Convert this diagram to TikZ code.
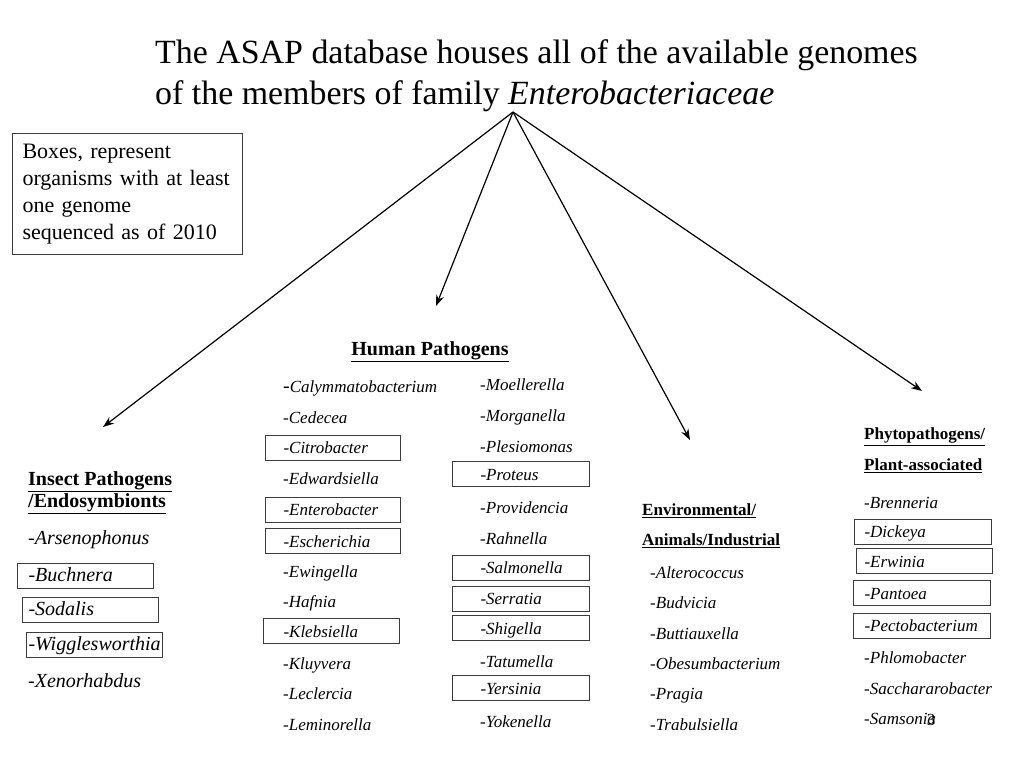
\documentclass[tikz,border=0pt]{standalone}
\usepackage{fontspec}
\setmainfont{Liberation Serif}
\usetikzlibrary{arrows.meta}
\definecolor{frameGray}{RGB}{60,60,60}
\newcommand{\gsize}{\fontsize{17}{20}\selectfont}
\newcommand{\isize}{\fontsize{20}{22}\selectfont}
\tikzset{
  genus/.style={font=\gsize\itshape,anchor=west,inner sep=0pt,
    text height=14pt,text depth=2pt},
  igenus/.style={font=\isize\itshape,anchor=west,inner sep=0pt,
    text height=15pt,text depth=4pt},
  boxed/.style 2 args={draw=frameGray,line width=1pt,inner xsep=#1,
    inner ysep=4.5pt,
    execute at begin node={\hbox to #2\bgroup},
    execute at end node={\hfil\egroup}},
  head/.style={font=\gsize\bfseries,anchor=west,inner sep=0pt,align=left},
  arrow/.style={-{Stealth[length=11pt,width=8pt]},line width=1.2pt}
}
\begin{document}
\begin{tikzpicture}[x=1pt,y=-1pt]
  \useasboundingbox (0,0) rectangle (1024,768);
  % title and legend
  \node[anchor=west,inner sep=0pt,align=left,
    font=\fontsize{33.9}{41}\selectfont] (title) at (155,76)
    {The ASAP database houses all of the available genomes\\
     of the members of family \textit{Enterobacteriaceae}};
  \node[draw=frameGray,line width=1pt,anchor=north west,inner xsep=10pt,
    text width=210pt,minimum height=121pt,align=left,
    font=\fontsize{22}{27}\selectfont] (legend) at (12,133)
    {Boxes, represent\\organisms with at least\\one genome\\sequenced as of 2010};
  % arrows
  \coordinate (apex) at (513,112);
  \coordinate (toInsect) at (103,427);
  \coordinate (toHuman) at (436,306);
  \coordinate (toEnv) at (690,440);
  \coordinate (toPlant) at (922,391);
  \draw[arrow] (apex) -- (toInsect);
  \draw[arrow] (apex) -- (toHuman);
  \draw[arrow] (apex) -- (toEnv);
  \draw[arrow] (apex) -- (toPlant);
  % insect pathogens
  \node[head,font=\isize\bfseries] (insect) at (28,493)
    {\underline{Insect Pathogens}\\\underline{/Endosymbionts}};
  \node[igenus] (arseno) at (28,539) {-Arsenophonus};
  \node[igenus,boxed={11pt}{114pt},inner ysep=3pt] (buchnera) at (17,575.5) {-Buchnera};
  \node[igenus,boxed={6pt}{124pt},inner ysep=3pt] (sodalis) at (22,609.5) {-Sodalis};
  \node[igenus,boxed={2pt}{132pt},inner ysep=3pt] (wiggles) at (26,644.5) {-Wigglesworthia};
  \node[igenus] (xeno) at (28,682) {-Xenorhabdus};
  % human pathogens
  \node[head,font=\isize\bfseries,anchor=center] (human) at (430,352)
    {\underline{Human Pathogens}};
  \node[genus] (calym) at (283,386)
    {{\normalfont\fontsize{20}{20}\selectfont -}Calymmatobacterium};
  \node[genus] (cedecea) at (283,417) {-Cedecea};
  \node[genus,boxed={18pt}{99pt}] (citro) at (265,447.5) {-Citrobacter};
  \node[genus] (edwards) at (283,478) {-Edwardsiella};
  \node[genus,boxed={18pt}{99pt}] (entero) at (265,509.5) {-Enterobacter};
  \node[genus,boxed={18pt}{99pt}] (escher) at (265,541) {-Escherichia};
  \node[genus] (ewing) at (283,571) {-Ewingella};
  \node[genus] (hafnia) at (283,601) {-Hafnia};
  \node[genus,boxed={20pt}{96pt}] (klebs) at (263,631) {-Klebsiella};
  \node[genus] (kluyv) at (283,663) {-Kluyvera};
  \node[genus] (lecl) at (283,693) {-Leclercia};
  \node[genus] (lemin) at (283,724) {-Leminorella};
  \node[genus] (moell) at (480,384) {-Moellerella};
  \node[genus] (morgan) at (480,415) {-Morganella};
  \node[genus] (plesio) at (480,446) {-Plesiomonas};
  \node[genus,boxed={28pt}{81pt}] (proteus) at (452,474) {-Proteus};
  \node[genus] (provid) at (480,507) {-Providencia};
  \node[genus] (rahn) at (480,538) {-Rahnella};
  \node[genus,boxed={28pt}{81pt}] (salmon) at (452,567.5) {-Salmonella};
  \node[genus,boxed={28pt}{81pt}] (serrat) at (452,598.5) {-Serratia};
  \node[genus,boxed={28pt}{81pt}] (shig) at (452,628) {-Shigella};
  \node[genus] (tatum) at (480,661) {-Tatumella};
  \node[genus,boxed={28pt}{81pt}] (yers) at (452,688) {-Yersinia};
  \node[genus] (yoken) at (480,721) {-Yokenella};
  % environmental
  \node[head,font=\fontsize{17}{30}\selectfont\bfseries] (env) at (642,526)
    {\underline{Environmental/}\\\underline{Animals/Industrial}};
  \node[genus] (altero) at (650,572) {-Alterococcus};
  \node[genus] (budv) at (650,602) {-Budvicia};
  \node[genus] (butti) at (650,633) {-Buttiauxella};
  \node[genus] (obesum) at (650,663) {-Obesumbacterium};
  \node[genus] (pragia) at (650,693) {-Pragia};
  \node[genus] (trabul) at (650,724) {-Trabulsiella};
  % phytopathogens
  \node[head,font=\fontsize{17}{31}\selectfont\bfseries] (plant) at (864,450.5)
    {\underline{Phytopathogens/}\\\underline{Plant-associated}};
  \node[genus] (brenn) at (864,502) {-Brenneria};
  \node[genus,boxed={10pt}{117pt}] (dickeya) at (854,531.5) {-Dickeya};
  \node[genus,boxed={8pt}{120pt}] (erwin) at (856,561) {-Erwinia};
  \node[genus,boxed={11pt}{115pt}] (pantoea) at (853,593) {-Pantoea};
  \node[genus,boxed={11pt}{115pt}] (pecto) at (853,625.5) {-Pectobacterium};
  \node[genus] (phlomo) at (864,657) {-Phlomobacter};
  \node[genus] (sacch) at (864,688) {-Sacchararobacter};
  \node[genus] (samson) at (864,718) {-Samsonia};
  \node[font=\gsize,inner sep=0pt] (slideno) at (931,720) {3};
\end{tikzpicture}
\end{document}
